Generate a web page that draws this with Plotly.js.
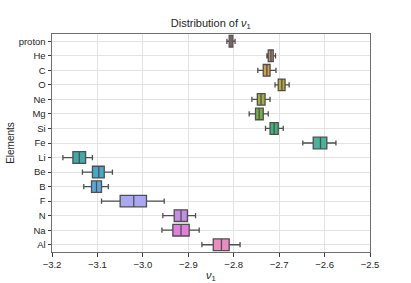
<!DOCTYPE html>
<html>
<head>
<meta charset="utf-8">
<script src="https://cdn.plot.ly/plotly-3.0.1.min.js"></script>
<style>html,body{margin:0;padding:0;background:#fff;}#chart{width:411px;height:283px;}</style>
</head>
<body>
<div id="chart"></div>
<script>
const elements = ["proton","He","C","O","Ne","Mg","Si","Fe","Li","Be","B","F","N","Na","Al"];
const lowerWhisker = [-2.815,-2.727,-2.747,-2.709,-2.760,-2.766,-2.730,-2.648,-3.176,-3.133,-3.130,-3.091,-2.956,-2.958,-2.870];
const q1Values     = [-2.810,-2.724,-2.735,-2.702,-2.748,-2.752,-2.720,-2.625,-3.154,-3.111,-3.113,-3.050,-2.931,-2.934,-2.845];
const medianValues = [-2.806,-2.718,-2.727,-2.694,-2.740,-2.744,-2.711,-2.609,-3.140,-3.097,-3.102,-3.020,-2.916,-2.916,-2.827];
const q3Values     = [-2.802,-2.713,-2.720,-2.687,-2.731,-2.735,-2.702,-2.595,-3.126,-3.085,-3.091,-2.992,-2.902,-2.898,-2.810];
const upperWhisker = [-2.797,-2.708,-2.707,-2.678,-2.720,-2.724,-2.691,-2.575,-3.111,-3.067,-3.076,-2.953,-2.884,-2.876,-2.786];
const colors = ["#c98490","#c58e74","#d4a043","#b9ac3e","#a3ad3e","#74b240","#3fb37a","#47b49c","#41a9a6","#45aac8","#5aa8e0","#aaa8ee","#c68fe6","#e080dc","#ea8cc0"];
const xTicks = [-3.2,-3.1,-3.0,-2.9,-2.8,-2.7,-2.6,-2.5];

const traces = elements.map((el, i) => ({
  type: "box",
  orientation: "h",
  y: [el],
  q1: [q1Values[i]],
  median: [medianValues[i]],
  q3: [q3Values[i]],
  lowerfence: [lowerWhisker[i]],
  upperfence: [upperWhisker[i]],
  width: 0.8,
  whiskerwidth: 0.45,
  fillcolor: colors[i],
  line: {color: "#4f4f4f", width: 1.3},
  boxpoints: false,
  hoverinfo: "skip",
  showlegend: false
}));

const font = "Liberation Sans, Arial, sans-serif";
const layout = {
  width: 411, height: 283,
  margin: {l: 52, r: 41, t: 34, b: 31},
  paper_bgcolor: "#fff", plot_bgcolor: "#fff",
  font: {family: font, color: "#262626", size: 9.5},
  showlegend: false,
  title: {text: "Distribution of <i>ν</i><sub>1</sub>", font: {family: font, size: 11, color: "#262626"},
          x: 0.513, xanchor: "center", y: 0.918, yanchor: "middle"},
  xaxis: {
    range: [-3.2, -2.5], tickvals: xTicks, tickformat: ".1f",
    showgrid: true, gridcolor: "#e3e3e3", gridwidth: 1, zeroline: false,
    showline: true, linecolor: "#6e6e6e", linewidth: 1, mirror: true,
    ticks: "outside", ticklen: 3.5, tickcolor: "#3a3a3a", tickwidth: 1,
    tickfont: {family: font, size: 9.5, color: "#262626"},
    title: {text: "<i>ν</i><sub>1</sub>", font: {family: font, size: 11, color: "#262626"}, standoff: 3}
  },
  yaxis: {
    type: "category", categoryorder: "array", categoryarray: elements,
    range: [elements.length - 0.5, -0.5],
    showgrid: true, gridcolor: "#e3e3e3", gridwidth: 1, zeroline: false,
    showline: true, linecolor: "#6e6e6e", linewidth: 1, mirror: true,
    ticks: "outside", ticklen: 3.5, tickcolor: "#3a3a3a", tickwidth: 1,
    tickfont: {family: font, size: 9.5, color: "#262626"},
    title: {text: "Elements", font: {family: font, size: 10, color: "#262626"}, standoff: 2}
  }
};

Plotly.newPlot("chart", traces, layout, {staticPlot: true, displayModeBar: false});
</script>
</body>
</html>
